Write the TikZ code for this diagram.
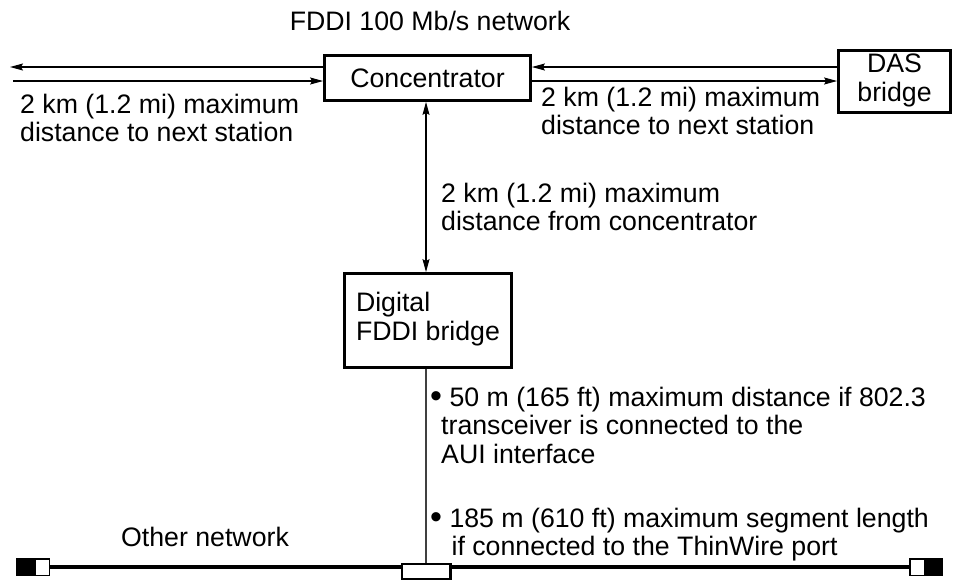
\documentclass[tikz,border=0pt]{standalone}
\usepackage{fontspec}
\setmainfont{Liberation Sans}
\usetikzlibrary{arrows.meta}
\newcommand{\mylines}[1]{\begin{tabular}[t]{@{}l@{}}#1\end{tabular}}
\newcommand{\bigbul}{\raisebox{-1.5pt}{\fontsize{34}{28.5}\selectfont\textbullet}}
\begin{document}
\begin{tikzpicture}[x=1pt,y=-1pt,
  every node/.style={font=\fontsize{26.7}{28.5}\selectfont, inner sep=0pt},
  box/.style={draw, line width=2.8pt, fill=white},
  arr/.style={-{Stealth[length=13pt,width=7pt,inset=2pt]}, line width=1.1pt},
  darr/.style={{Stealth[length=13pt,width=7pt,inset=2pt]}-{Stealth[length=13pt,width=7pt,inset=2pt]}, line width=1.1pt},
  thin/.style={line width=1.1pt, draw=black!75},
  cable/.style={line width=4pt},
  termb/.style={draw, fill=black, line width=1.5pt, minimum width=16.5pt, minimum height=16.5pt},
  termw/.style={draw, fill=white, line width=1.5pt, minimum width=14.5pt, minimum height=16.5pt},
  tapbox/.style={draw, fill=white, line width=2.5pt, minimum width=48.5pt, minimum height=15pt},
  lbl/.style={anchor=base west}]
\useasboundingbox (0,0) rectangle (957,582);

% boxes
\node[box, minimum width=206pt, minimum height=45pt] (conc) at (427.5,78) {Concentrator};
\node[box, minimum width=112pt, minimum height=62pt] (das) at (894.5,81.5) {\begin{tabular}{@{}c@{}}DAS\\bridge\end{tabular}};
\node[box, minimum width=167pt, minimum height=94pt] (bridge) at (428,320.5) {\begin{tabular}{@{}l@{}}Digital\\FDDI bridge\end{tabular}\hspace{4pt}};

% helper coordinates
\coordinate (lt) at (10,67);
\coordinate (lb) at (13,81);

% horizontal arrows
\draw[arr] (conc.west |- lt) -- (lt);
\draw[arr] (lb) -- (conc.west |- lb);
\draw[arr] (das.west |- lt) -- (conc.east |- lt);
\draw[arr] (conc.east |- lb) -- (das.west |- lb);

% vertical arrow
\draw[darr] (426,0 |- conc.south) -- (426,0 |- bridge.north);

% cable
\node[termb] (tlb) at (25,567) {};
\node[termw] (tlw) at (42,567) {};
\node[termw] (trw) at (917,567) {};
\node[termb] (trb) at (933.5,567) {};
\node[tapbox] (tap) at (426,571.5) {};
\draw[cable] (tlw.east) -- (tlw.east -| tap.west);
\draw[cable] (tap.east |- trw.west) -- (trw.west);
\draw[thin] (bridge.south -| tap.north) -- (tap.north);

% labels
\node[anchor=base] (title) at (430,30) {FDDI 100 Mb/s network};
\node[lbl] (ll) at (20,113) {\mylines{2 km (1.2 mi) maximum\\distance to next station}};
\node[lbl] (rl) at (541,106) {\mylines{2 km (1.2 mi) maximum\\distance to next station}};
\node[lbl] (vl) at (441,202) {\mylines{2 km (1.2 mi) maximum\\distance from concentrator}};
\node[lbl] (b1) at (430,406) {\mylines{\bigbul\ 50 m (165 ft) maximum distance if 802.3\\\hspace{11pt}transceiver is connected to the\\\hspace{11pt}AUI interface}};
\node[lbl] (b2) at (430,527) {\mylines{\bigbul\ 185 m (610 ft) maximum segment length\\\hspace{14pt} if connected to the ThinWire port}};
\node[lbl] (other) at (121,546) {Other network};
\end{tikzpicture}
\end{document}
